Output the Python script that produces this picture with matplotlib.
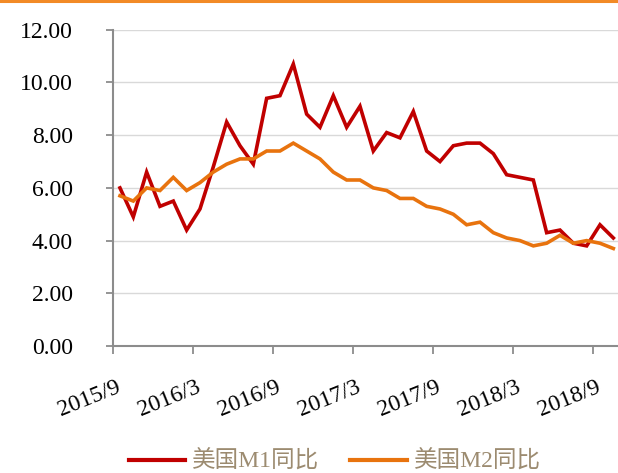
import matplotlib
matplotlib.use("Agg")
import matplotlib.pyplot as plt
from matplotlib.lines import Line2D
import numpy as np

# Data (monthly, 2015/9 .. 2018/10)
m1 = [6.0, 4.9, 6.6, 5.3, 5.5, 4.4, 5.2, 6.8, 8.5, 7.6, 6.9, 9.4, 9.5, 10.7,
      8.8, 8.3, 9.5, 8.3, 9.1, 7.4, 8.1, 7.9, 8.9, 7.4, 7.0, 7.6, 7.7, 7.7,
      7.3, 6.5, 6.4, 6.3, 4.3, 4.4, 3.9, 3.8, 4.6, 4.1]
m2 = [5.7, 5.5, 6.0, 5.9, 6.4, 5.9, 6.2, 6.6, 6.9, 7.1, 7.1, 7.4, 7.4, 7.7,
      7.4, 7.1, 6.6, 6.3, 6.3, 6.0, 5.9, 5.6, 5.6, 5.3, 5.2, 5.0, 4.6, 4.7,
      4.3, 4.1, 4.0, 3.8, 3.9, 4.2, 3.9, 4.0, 3.9, 3.7]
tick_labels = ["2015/9", "2016/3", "2016/9", "2017/3", "2017/9", "2018/3", "2018/9"]
y_ticks = [0, 2, 4, 6, 8, 10, 12]
series_names = ["美国M1同比", "美国M2同比"]

RED = "#C00000"
ORANGE = "#E8730E"
GRID = "#D9D9D9"
SPINE = "#8C8C8C"
LEG_TXT = "#9C8B70"

serif = ["Liberation Serif", "Noto Sans CJK SC"]

fig = plt.figure(figsize=(6.18, 4.73), dpi=100)
W, H = 618, 473
left, right, top, bottom = 113.3, 620.0, 29.8, 346.0
ax = fig.add_axes([left / W, 1 - bottom / H, (right - left) / W, (bottom - top) / H])

x = np.arange(len(m1))
ax.plot(x, m1, color=RED, lw=2.6, solid_joinstyle="miter", clip_on=False, zorder=3)
ax.plot(x, m2, color=ORANGE, lw=2.6, solid_joinstyle="miter", clip_on=False, zorder=3)

ax.set_xlim(-0.5, len(m1) - 0.5)
ax.set_ylim(0, 12)

# y axis
ax.set_yticks(y_ticks)
ax.set_yticklabels([f"{v:.2f}" for v in y_ticks], family=serif, fontsize=17)
ax.tick_params(axis="y", direction="out", length=5, width=1.3, color=SPINE, pad=24)
ax.yaxis.grid(True, color=GRID, lw=1.0)
ax.set_axisbelow(True)

# x axis: labels at category centers, ticks between categories
label_pos = [0, 6, 12, 18, 24, 30, 36]
ax.set_xticks([p - 0.35 for p in label_pos])
ax.set_xticklabels(tick_labels, family=serif, fontsize=17, rotation=22,
                   ha="right", va="top", rotation_mode="anchor")
ax.tick_params(axis="x", which="major", length=0, pad=22)
ax.set_xticks([p - 0.5 for p in label_pos], minor=True)
ax.tick_params(axis="x", which="minor", direction="out", length=6, width=1.3, color=SPINE)

for s in ["top", "right"]:
    ax.spines[s].set_visible(False)
for s in ["left", "bottom"]:
    ax.spines[s].set_color(SPINE)
    ax.spines[s].set_linewidth(1.5)

# legend
handles = [Line2D([], [], color=RED, lw=3), Line2D([], [], color=ORANGE, lw=3)]
leg = fig.legend(handles, series_names, loc="center", bbox_to_anchor=(335 / W, 1 - 462 / H),
                 ncol=2, frameon=False, handlelength=2.4, handletextpad=0.3,
                 columnspacing=1.3, prop={"family": serif, "size": 17})
for t in leg.get_texts():
    t.set_color(LEG_TXT)

# top orange rule
fig.add_artist(Line2D([0, 1], [1 - 1.5 / H, 1 - 1.5 / H], color="#F28A26", lw=2.2,
                      transform=fig.transFigure))

fig.savefig("out.png", dpi=100)
